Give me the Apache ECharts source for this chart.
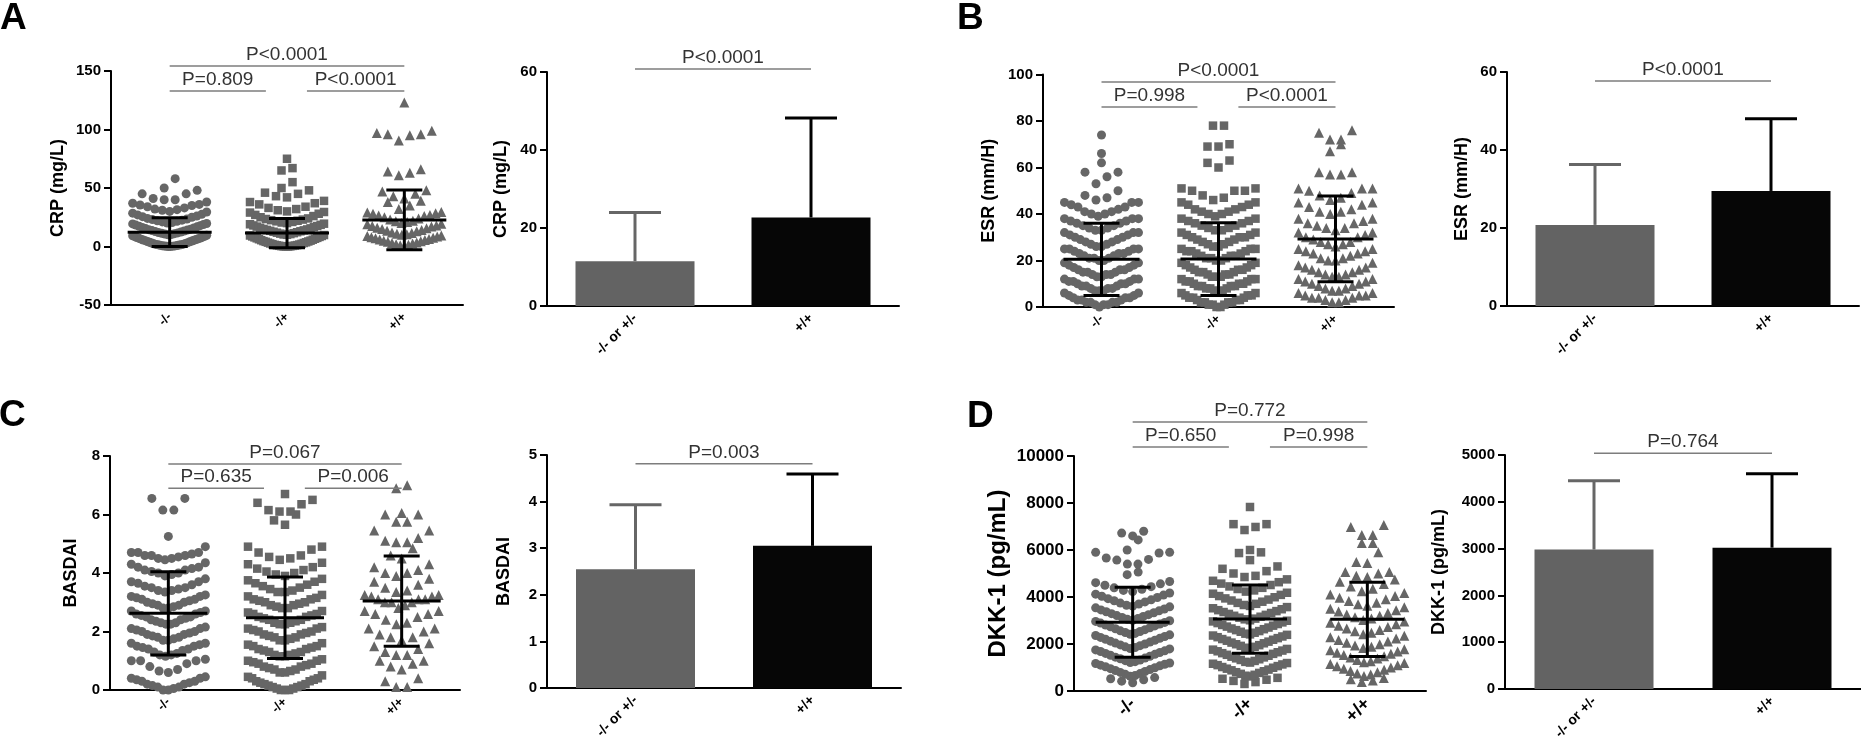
<!DOCTYPE html>
<html>
<head>
<meta charset="utf-8">
<script src="https://cdn.jsdelivr.net/npm/echarts@6/dist/echarts.min.js"></script>
<style>
  html, body { margin: 0; padding: 0; background: #fff; }
  #chart { width: 1861px; height: 752px; }
</style>
</head>
<body>
<div id="chart"></div>
<script>
const FONT = "'Liberation Sans', Arial, sans-serif";

// category labels
const genotypes = ['-/-', '-/+', '+/+'];
const pooled = ['-/- or +/-', '+/+'];

// A: CRP (mg/L), one value per patient
const crpWT = [0,0.1,0.2,0.3,0.4,0.5,0.6,0.8,1,1.2,1.4,1.6,1.8,2,2.3,2.6,3,3.3,3.6,4,4.3,4.6,5,5.3,5.6,6,6.3,6.6,7,7.3,7.6,8,8.4,8.8,9.2,9.6,
  10,10.3,10.6,11,11.3,11.6,12,12.4,12.8,13.2,13.6,14,14.4,14.8,15.3,15.8,16.3,16.8,17.3,17.8,18.3,18.8,19.3,19.7,
  20,20.5,21,21.5,22,22.5,23,23.5,24,25,25.5,26,27,27.5,28.5,29.5,
  30,31,31.5,32,33,34,35,35.5,36,37,38,
  40,40,41,45,45,48,50,
  58];
const crpHet = [0,0,0.1,0.2,0.3,0.5,0.6,0.8,1,1.2,1.4,1.7,2,2.3,2.6,3,3.3,3.6,4,4.3,4.6,5,5.4,5.8,6.2,6.6,7,7.4,7.8,8.2,8.6,9,9.4,9.8,
  10,10.3,10.6,11,11.4,11.8,12.2,12.6,13,13.4,13.8,14.2,14.6,15,15.5,16,16.5,17,17.5,18,18.5,19,19.5,
  20,20.5,21,21.5,22,22.5,23,23.5,24,25,26,27,28,29,29.5,
  30,31,32,33,34,36,37,38,39,
  42,43,45,46,48,50,
  55,65,67,75];
const crpHom = [0.5,1,1.5,2,2.5,3,3.5,4,4.5,5,5.5,6,6.5,7,7.5,8,8.5,9,9.5,
  10,10.5,11,11.5,12,13,13.5,14,15,15.5,16,17,17.5,18,19,19.5,
  20,21,21.5,22,23,24,25,26,26.5,27,28,28.5,29,29.5,
  32,35,38,39,
  41,43,45,47,48,
  61,63,64,66,
  90.5,95,96,96,97,99,
  123];
const crpMean = [12.2, 11.5, 22.7];
const crpSd = [12.3, 12.5, 25.5];
const crpBar = [11.5, 22.7];
const crpBarSd = [12.5, 25.5];
const crpP = ['P<0.0001', 'P=0.809', 'P<0.0001'];
const crpBarP = ['P<0.0001'];

// B: ESR (mm/H)
const esrWT = [0,1,1,1,2,2,2,2,3,3,3,4,4,4,5,5,6,6,
  7,7,7,8,8,8,9,9,9,10,10,10,11,11,11,12,12,12,
  13,13,14,14,14,15,15,15,16,16,16,17,17,18,18,19,19,
  20,20,21,21,21,22,22,23,23,23,24,24,25,25,25,25,
  26,26,27,27,28,28,29,29,30,30,31,31,32,32,32,
  33,33,34,34,35,35,36,36,37,37,38,38,38,
  39,40,40,41,41,42,43,43,44,45,45,45,
  46,47,48,50,
  53,56,58,58,
  62,66,74];
const esrHet = [0,0,1,1,1,2,2,2,2,3,3,3,4,4,4,5,5,5,6,6,
  7,7,7,8,8,8,9,9,9,9,10,10,10,11,11,11,12,12,12,
  13,13,13,14,14,14,15,15,15,16,16,16,17,17,18,18,19,19,
  20,20,21,21,21,22,22,22,23,23,24,24,24,25,25,25,
  26,26,27,27,28,28,29,29,30,30,30,31,31,32,32,
  33,33,34,34,35,35,36,36,37,37,38,38,
  39,40,40,41,41,42,42,43,44,44,45,45,
  46,47,48,50,50,50,51,51,
  60,62,63,
  69,69,70,
  78,78];
const esrHom = [2,2,3,3,4,4,4,5,5,5,6,6,
  7,7,8,8,9,9,10,10,11,11,12,12,
  13,13,14,14,15,15,16,16,17,17,18,19,
  20,20,21,21,22,23,23,24,24,25,25,
  26,27,27,28,28,29,30,30,31,32,32,
  33,34,34,35,36,36,37,38,38,
  40,41,41,42,43,44,45,45,
  46,47,48,49,50,51,51,51,
  57,57,58,58,
  67,70,
  72,72,75,76];
const esrMean = [20.5, 20.6, 29.3];
const esrSd = [15.5, 15.6, 18.4];
const esrBar = [20.8, 29.5];
const esrBarSd = [15.5, 18.5];
const esrP = ['P<0.0001', 'P=0.998', 'P<0.0001'];
const esrBarP = ['P<0.0001'];

// C: BASDAI
const basWT = [0,0,0.05,0.1,0.1,0.15,0.2,0.2,0.25,0.3,0.3,0.35,0.4,0.4,0.45,
  0.6,0.65,0.7,0.8,0.9,1.0,1.0,1.0,1.05,
  1.15,1.2,1.2,1.25,1.3,1.35,1.4,1.4,1.45,1.5,1.5,1.55,1.6,1.6,
  1.7,1.7,1.75,1.8,1.8,1.85,1.9,1.9,1.95,2.0,2.0,2.05,2.1,2.1,2.15,
  2.25,2.25,2.3,2.3,2.35,2.4,2.4,2.45,2.5,2.5,2.55,2.6,2.6,2.65,2.7,2.7,
  2.8,2.8,2.85,2.9,2.9,2.95,3.0,3.0,3.05,3.1,3.1,3.15,3.2,3.2,3.25,
  3.35,3.4,3.4,3.45,3.5,3.5,3.55,3.6,3.65,3.7,3.7,3.8,
  3.9,3.95,4.0,4.0,4.05,4.1,4.1,4.15,4.2,4.2,4.3,4.35,
  4.45,4.5,4.5,4.55,4.6,4.6,4.6,4.65,4.7,4.7,4.7,4.9,
  5.25,6.15,6.15,6.55,6.55];
const basHet = [0,0,0,0.05,0.05,0.1,0.1,0.15,0.15,0.2,0.2,0.25,0.3,0.3,0.35,0.4,0.4,0.45,0.5,
  0.6,0.6,0.65,0.7,0.7,0.75,0.8,0.8,0.85,0.9,0.9,0.95,1.0,1.0,1.05,
  1.15,1.15,1.2,1.2,1.25,1.3,1.3,1.35,1.4,1.4,1.45,1.5,1.5,1.55,1.6,
  1.7,1.7,1.75,1.8,1.8,1.85,1.9,1.9,1.95,2.0,2.0,2.05,2.1,2.1,2.15,
  2.25,2.25,2.3,2.3,2.35,2.4,2.4,2.45,2.5,2.5,2.55,2.6,2.6,2.65,2.7,
  2.8,2.8,2.85,2.9,2.9,2.95,3.0,3.0,3.05,3.1,3.1,3.15,3.2,3.25,
  3.35,3.35,3.4,3.45,3.5,3.55,3.6,3.65,3.7,3.75,3.8,
  3.9,3.95,4.0,4.05,4.1,4.15,4.2,4.3,4.35,
  4.45,4.5,4.55,4.6,4.7,4.8,4.9,4.9,
  5.65,5.8,6.0,
  6.1,6.1,6.15,6.35,6.4,6.5,
  6.7];
const basHom = [0.1,0.1,0.3,0.4,
  0.7,0.8,0.9,1.0,1.0,
  1.2,1.2,1.3,1.4,1.5,1.6,
  1.7,1.8,1.8,1.9,2.0,2.1,2.1,
  2.25,2.3,2.4,2.5,2.6,2.6,2.7,2.7,
  2.8,2.9,3.0,3.0,3.0,3.1,3.1,3.1,3.2,3.2,3.25,3.25,
  3.35,3.4,3.5,3.6,3.7,3.8,
  3.9,4.0,4.0,4.1,4.2,4.3,
  4.5,4.6,4.85,
  5.05,5.05,5.1,5.2,5.45,5.45,
  5.75,5.75,6.0,6.0,
  6.05,
  6.9,7.0];
const basMean = [2.62, 2.47, 3.04];
const basSd = [1.42, 1.39, 1.54];
const basBar = [2.55, 3.05];
const basBarSd = [1.38, 1.54];
const basP = ['P=0.067', 'P=0.635', 'P=0.006'];
const basBarP = ['P=0.003'];

// D: DKK-1 (pg/mL)
const dkkWT = [350,420,480,520,570,
  630,660,710,740,790,830,870,910,950,990,1030,1070,1100,1140,1170,1190,
  1210,1250,1290,1320,1370,1400,1440,1480,1520,1560,1600,1640,1680,1710,1750,1790,
  1810,1850,1880,1930,1960,2000,2040,2080,2120,2160,2200,2240,2280,2320,2360,2390,
  2410,2450,2490,2530,2560,2610,2650,2690,2730,2770,2810,2850,2890,2920,2960,2990,
  3010,3050,3090,3130,3170,3210,3250,3290,3330,3370,3410,3450,3490,3540,3580,
  3610,3650,3700,3740,3790,3840,3880,3930,3980,4030,4080,4120,4170,
  4230,4280,4330,4390,4440,4500,4560,4610,4660,
  4950,5060,
  5400,5400,5570,5600,5660,5870,5900,5900,
  6000,6430,
  6600,6720,6800];
const dkkHet = [300,380,430,480,520,560,
  620,650,690,730,770,800,840,880,910,950,990,1020,1060,1100,1130,1160,1190,
  1210,1240,1280,1320,1350,1390,1430,1460,1500,1540,1580,1610,1650,1690,1720,1760,1790,
  1810,1840,1880,1920,1950,1990,2030,2060,2100,2140,2180,2210,2250,2290,2320,2360,2390,
  2410,2440,2480,2520,2550,2590,2630,2660,2700,2740,2780,2810,2850,2890,2920,2960,2990,
  3010,3050,3080,3120,3160,3200,3240,3280,3320,3360,3400,3440,3480,3520,3570,
  3620,3660,3710,3750,3800,3850,3890,3940,3990,4040,4090,4140,4180,
  4230,4280,4340,4390,4450,4510,4570,4630,4690,4750,
  4850,4900,5000,5100,5200,5300,
  5570,5870,5900,
  6000,
  6850,6980,7100,7100,
  7830];
const dkkHom = [380,450,500,550,
  640,700,750,800,850,900,950,1000,1050,1100,1150,1190,
  1220,1270,1320,1380,1430,1480,1530,1580,1630,1680,1730,1780,
  1830,1880,1940,1990,2050,2110,2170,2230,2290,2350,
  2420,2480,2540,2600,2660,2720,2780,2840,2900,2960,
  3020,3080,3140,3200,3260,3320,3380,3440,3500,3560,
  3630,3690,3760,3830,3900,3970,4040,4110,4170,
  4250,4350,4450,4550,4650,4750,
  4850,4900,5000,5060,5060,
  5450,5490,5900,
  6300,6300,
  6640,6640,6980,7060];
const dkkMean = [2930, 3060, 3050];
const dkkSd = [1490, 1450, 1580];
const dkkBar = [2980, 3020];
const dkkBarSd = [1470, 1580];
const dkkP = ['P=0.772', 'P=0.650', 'P=0.998'];
const dkkBarP = ['P=0.764'];

const SYMBOLS = ['circle', 'rect', 'triangle'];
const SYM_SIZE = [9, 8.5, 10];
const DOT = '#666666';
const BAR_COLORS = ['#636363', '#060606'];

// dot plots: 3 genotype columns
const dotPanels = [
  { grid: {left: 111, top: 71, width: 352, height: 234}, y: [-50, 150, 50], name: 'CRP (mg/L)', gap: 44,
    groups: [crpWT, crpHet, crpHom], mean: crpMean, sd: crpSd, bin: 10, p: crpP, br: [154.3, 133], half: 42 },
  { grid: {left: 1043, top: 74.5, width: 351, height: 232.5}, y: [0, 100, 20], name: 'ESR (mm/H)', gap: 45,
    groups: [esrWT, esrHet, esrHom], mean: esrMean, sd: esrSd, bin: 6.5, p: esrP, br: [96.8, 86], half: 38 },
  { grid: {left: 110, top: 456, width: 350, height: 234}, y: [0, 8, 2], name: 'BASDAI', gap: 30,
    groups: [basWT, basHet, basHom], mean: basMean, sd: basSd, bin: 0.55, p: basP, br: [7.73, 6.9], half: 39 },
  { grid: {left: 1074, top: 456, width: 352, height: 235}, y: [0, 10000, 2000], name: 'DKK-1 (pg/mL)', gap: 64,
    groups: [dkkWT, dkkHet, dkkHom], mean: dkkMean, sd: dkkSd, bin: 600, p: dkkP, br: [11450, 10380], half: 37,
    nameSize: 24, tickSize: 17, catSize: 18 }
];

// pooled bar charts
const barPanels = [
  { grid: {left: 547, top: 72, width: 352, height: 234}, y: [0, 60, 20], name: 'CRP (mg/L)', gap: 37,
    mean: crpBar, sd: crpBarSd, p: crpBarP, br: 60.8 },
  { grid: {left: 1507, top: 72, width: 352, height: 234}, y: [0, 60, 20], name: 'ESR (mm/H)', gap: 36,
    mean: esrBar, sd: esrBarSd, p: esrBarP, br: 57.7 },
  { grid: {left: 547, top: 455, width: 354, height: 233}, y: [0, 5, 1], name: 'BASDAI', gap: 34,
    mean: basBar, sd: basBarSd, p: basBarP, br: 4.81 },
  { grid: {left: 1505, top: 455, width: 356, height: 234}, y: [0, 5000, 1000], name: 'DKK-1 (pg/mL)', gap: 57,
    mean: dkkBar, sd: dkkBarSd, p: dkkBarP, br: 5040 }
];

// GraphPad-like column scatter: bin values into rows, lowest value in the middle of a row
function swarm(values, cat, bin, catPx) {
  const rows = {};
  values.forEach(v => {
    const k = Math.floor(v / bin + 1e-9);
    (rows[k] = rows[k] || []).push(v);
  });
  const pts = [];
  Object.keys(rows).forEach(k => {
    const row = rows[k].slice().sort((a, b) => a - b);
    const n = row.length;
    const step = n > 1 ? Math.min(11, 74 / (n - 1)) : 0;
    const slots = [];
    for (let i = 0; i < n; i++) slots.push((i - (n - 1) / 2) * step);
    slots.sort((a, b) => Math.abs(a) - Math.abs(b) || a - b);
    row.forEach((v, i) => pts.push([cat + slots[i] / catPx, v]));
  });
  return pts;
}

function catAxis(gi, labels, size) {
  return {
    type: 'category', gridIndex: gi, data: labels, position: 'bottom',
    axisLine: {onZero: false, lineStyle: {color: '#000', width: 2}},
    axisTick: {alignWithLabel: true, length: 7, lineStyle: {color: '#000', width: 2}},
    axisLabel: {rotate: 45, fontSize: size, fontWeight: 'bold', color: '#000', fontFamily: FONT, margin: 10}
  };
}

function valAxis(gi, pn) {
  return {
    type: 'value', gridIndex: gi, min: pn.y[0], max: pn.y[1], interval: pn.y[2], position: 'left',
    name: pn.name, nameLocation: 'middle', nameGap: pn.gap, nameRotate: 90,
    nameTextStyle: {fontSize: pn.nameSize || 18, fontWeight: 'bold', color: '#000', fontFamily: FONT},
    axisLine: {show: true, onZero: false, lineStyle: {color: '#000', width: 2}},
    axisTick: {show: true, length: 7, lineStyle: {color: '#000', width: 2}},
    axisLabel: {fontSize: pn.tickSize || 15, fontWeight: 'bold', color: '#000', fontFamily: FONT, margin: 10,
      formatter: v => String(v)},
    splitLine: {show: false}
  };
}

function seg(x1, y1, x2, y2, color, w) {
  return {type: 'line', shape: {x1, y1, x2, y2}, style: {stroke: color, lineWidth: w}};
}

function bracketSeries(xi, yi, data, labels) {
  return {
    type: 'custom', xAxisIndex: xi, yAxisIndex: yi, clip: false, silent: true, z: 5,
    encode: {x: [0, 1], y: 2},
    data: data,
    renderItem: (params, api) => {
      const a = api.coord([api.value(0), api.value(2)]);
      const b = api.coord([api.value(1), api.value(2)]);
      return {type: 'group', children: [
        seg(a[0], a[1], b[0], a[1], '#7d7d7d', 1.5),
        {type: 'text', style: {
          text: labels[api.value(3)], x: (a[0] + b[0]) / 2, y: a[1] - 11,
          textAlign: 'center', textVerticalAlign: 'middle', align: 'center', verticalAlign: 'middle',
          font: '19px ' + FONT, fill: '#333'
        }}
      ]};
    }
  };
}

const grid = [], xAxis = [], yAxis = [], series = [];

dotPanels.forEach(pn => {
  const gi = grid.length;
  grid.push(pn.grid);
  xAxis.push(catAxis(gi, genotypes, pn.catSize || 13));
  const vx = xAxis.length;
  xAxis.push({type: 'value', gridIndex: gi, min: -0.5, max: 2.5, show: false,
    axisLine: {onZero: false}});
  const yi = yAxis.length;
  yAxis.push(valAxis(gi, pn));
  const catPx = pn.grid.width / 3;
  pn.groups.forEach((vals, c) => {
    series.push({
      type: 'scatter', xAxisIndex: vx, yAxisIndex: yi, silent: true, z: 2,
      symbol: SYMBOLS[c], symbolSize: SYM_SIZE[c], itemStyle: {color: DOT, opacity: 1},
      data: swarm(vals, c, pn.bin, catPx)
    });
  });
  // mean with SD
  series.push({
    type: 'custom', xAxisIndex: vx, yAxisIndex: yi, silent: true, z: 4, clip: false,
    encode: {x: 0, y: 1},
    data: pn.mean.map((m, i) => [i, m, pn.sd[i]]),
    renderItem: (params, api) => {
      const i = api.value(0), m = api.value(1), s = api.value(2);
      const c = api.coord([i, m]), t = api.coord([i, m + s]), b = api.coord([i, m - s]);
      return {type: 'group', children: [
        seg(c[0] - pn.half, c[1], c[0] + pn.half, c[1], '#000', 3),
        seg(t[0], t[1], b[0], b[1], '#000', 3),
        seg(t[0] - 18, t[1], t[0] + 18, t[1], '#000', 3),
        seg(b[0] - 18, b[1], b[0] + 18, b[1], '#000', 3)
      ]};
    }
  });
  series.push(bracketSeries(vx, yi,
    [[0, 2, pn.br[0], 0], [0, 0.82, pn.br[1], 1], [1.17, 2, pn.br[1], 2]], pn.p));
});

barPanels.forEach(pn => {
  const gi = grid.length;
  grid.push(pn.grid);
  const cx = xAxis.length;
  xAxis.push(catAxis(gi, pooled, 14));
  const yi = yAxis.length;
  yAxis.push(valAxis(gi, pn));
  series.push({
    type: 'bar', xAxisIndex: cx, yAxisIndex: yi, barWidth: 119, silent: true, z: 2,
    data: pn.mean.map((v, i) => ({value: v, itemStyle: {color: BAR_COLORS[i]}}))
  });
  // upward SD whisker
  series.push({
    type: 'custom', xAxisIndex: cx, yAxisIndex: yi, silent: true, z: 3, clip: false,
    encode: {x: 0, y: 1},
    data: pn.mean.map((m, i) => [i, m, pn.sd[i]]),
    renderItem: (params, api) => {
      const i = api.value(0), m = api.value(1), s = api.value(2);
      const base = api.coord([i, m]), top = api.coord([i, m + s]);
      const col = i === 0 ? '#666666' : '#000000';
      return {type: 'group', children: [
        seg(base[0], base[1], top[0], top[1], col, 3),
        seg(top[0] - 26, top[1], top[0] + 26, top[1], col, 3)
      ]};
    }
  });
  series.push(bracketSeries(cx, yi, [[0, 1, pn.br, 0]], pn.p));
});

const letterFont = 'bold 37px ' + FONT;
const letters = [['A', 0, 19], ['B', 957, 19], ['C', -1, 416], ['D', 967, 417]].map(([t, x, y]) => ({
  type: 'text', x: x, y: y, silent: true,
  style: {text: t, font: letterFont, fill: '#000', textVerticalAlign: 'middle', verticalAlign: 'middle'}
}));

const chart = echarts.init(document.getElementById('chart'));
chart.setOption({
  backgroundColor: '#fff',
  animation: false,
  textStyle: {fontFamily: FONT},
  grid: grid,
  xAxis: xAxis,
  yAxis: yAxis,
  series: series,
  graphic: letters
});
</script>
</body>
</html>
